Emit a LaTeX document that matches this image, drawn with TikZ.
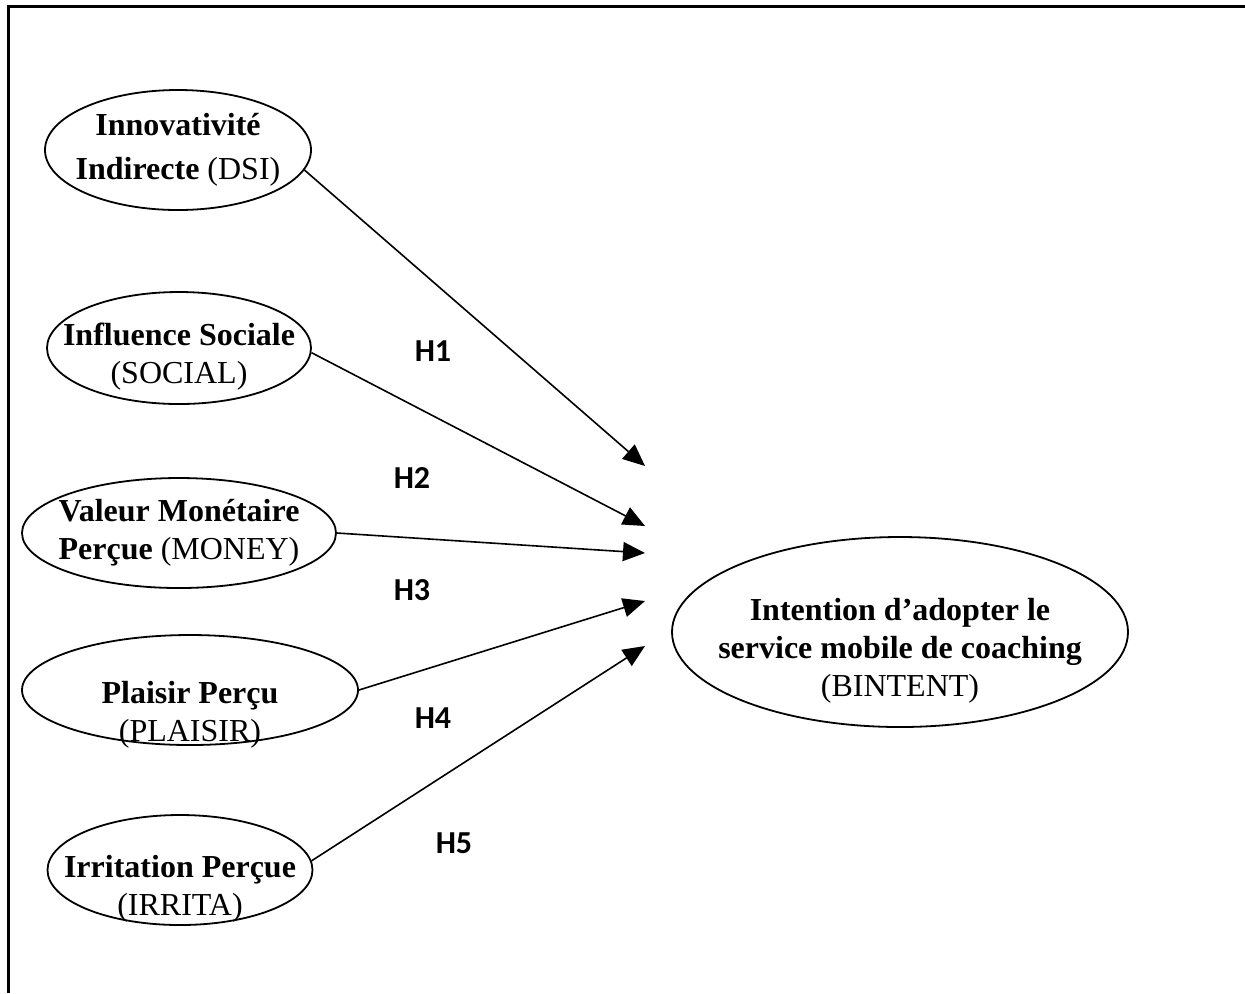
\documentclass[tikz,border=0pt]{standalone}
\usepackage{fontspec}
\setmainfont{Liberation Serif}
\newfontfamily\hfont{Carlito}
\usepackage{tikz}
\usetikzlibrary{shapes.geometric, arrows.meta, positioning}
\tikzset{
    construct/.style={ellipse, draw, line width=0.9pt, inner sep=-40pt, align=center, font=\fontsize{16}{19}\selectfont},
    hyp/.style={font=\hfont\bfseries\fontsize{16}{18}\selectfont, inner sep=0pt},
    arrow/.style={-{Triangle[length=11pt, width=9.5pt]}, line width=0.8pt},
    frame/.style={line width=1.5pt}
}

\begin{document}
\begin{tikzpicture}[x=0.5pt, y=-0.5pt]
    \useasboundingbox (0,0) rectangle (1245,993);
    % Frame
    \draw [frame] (8,993) -- (8,6) -- (1245,6);

    % Nodes
    \node [construct, minimum width=133pt, minimum height=60pt, font=\fontsize{16}{22}\selectfont] (dsi) at (178,150) {\textbf{Innovativité}\\\textbf{Indirecte} (DSI)};
    \node [construct, minimum width=132pt, minimum height=56pt] (social) at (179,348) {\rule{0pt}{20pt}\textbf{Influence Sociale}\\(SOCIAL)};
    \node [construct, minimum width=157pt, minimum height=55pt] (money) at (179,533) {\textbf{Valeur Monétaire}\\\textbf{Perçue} (MONEY)};
    \node [construct, minimum width=168pt, minimum height=55pt] (plaisir) at (190,690) {\rule{0pt}{36pt}\textbf{Plaisir Perçu}\\(PLAISIR)};
    \node [construct, minimum width=132.5pt, minimum height=55pt] (irrita) at (180,870) {\rule{0pt}{30pt}\textbf{Irritation Perçue}\\(IRRITA)};
    \node [construct, minimum width=228pt, minimum height=95pt] (bintent) at (900,632) {\rule{0pt}{30pt}\textbf{Intention d’adopter le}\\\textbf{service mobile de coaching}\\(BINTENT)};

    % Arrow ends
    \coordinate (e1) at (645,466);
    \coordinate (e2) at (645,526);
    \coordinate (e3) at (645,553);
    \coordinate (e4) at (645,601);
    \coordinate (e5) at (645,646);

    % Hypotheses
    \node [hyp] (h1) at (433,351) {H1};
    \node [hyp] (h2) at (412,478) {H2};
    \node [hyp] (h3) at (412,590) {H3};
    \node [hyp] (h4) at (433,718) {H4};
    \node [hyp] (h5) at (454,843) {H5};

    % Arrows
    \draw [arrow] (dsi.-9) -- (e1);
    \draw [arrow] (social.-2) -- (e2);
    \draw [arrow] (money.east) -- (e3);
    \draw [arrow] (plaisir.east) -- (e4);
    \draw [arrow] (irrita.4) -- (e5);
\end{tikzpicture}
\end{document}
